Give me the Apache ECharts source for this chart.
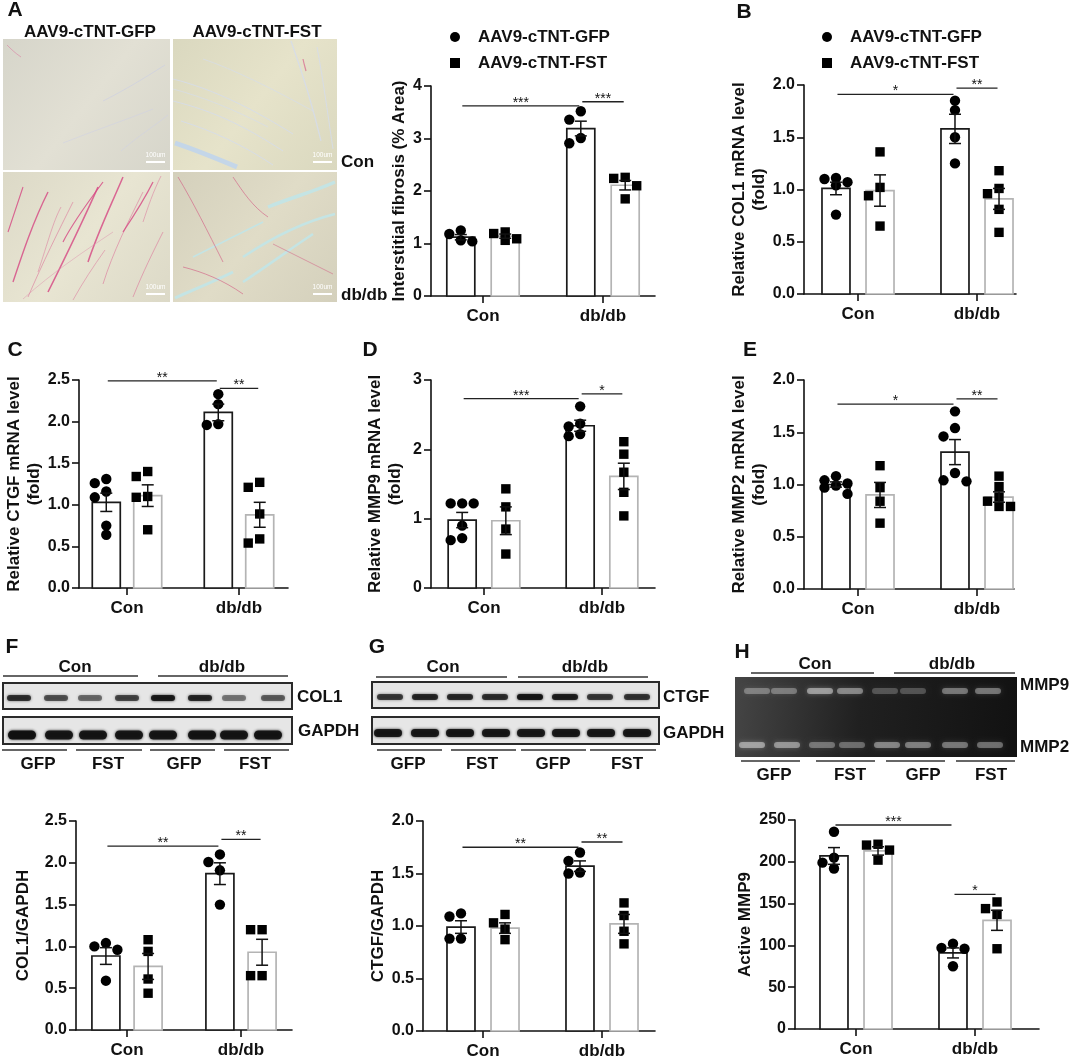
<!DOCTYPE html>
<html>
<head>
<meta charset="utf-8">
<script src="https://cdn.jsdelivr.net/npm/echarts@6.0.0/dist/echarts.min.js"></script>
<style>
  html, body { margin: 0; padding: 0; background: #fff; }
  #fig { width: 1072px; height: 1060px; }
</style>
</head>
<body>
<div id="fig"></div>
<script>
/* Fibrosis figure: histology, qPCR, blots and quantification, panels A-H. */
(function () {
  const FONT = '"Liberation Sans", Arial, Helvetica, sans-serif';
  const INK = '#111';
  const GROUPS = ['Con', 'db/db'];
  const NAMES = ['AAV9-cTNT-GFP', 'AAV9-cTNT-FST'];

  // ---- values: means / SEM order = GFP Con, FST Con, GFP db, FST db ----
  const A_MEAN = [1.12, 1.14, 3.19, 2.11];
  const A_SEM = [0.05, 0.04, 0.14, 0.09];
  const A_GFP = [[1.25, 1.18, 1.06, 1.04], [3.52, 3.36, 3.01, 2.91]];
  const A_FST = [[1.22, 1.19, 1.09, 1.06], [2.26, 2.24, 2.10, 1.85]];
  const A_SIG = [[0, 0, 1, 0, 3.62, '***'], [1, 0, 1, 1, 3.70, '***']];

  const B_MEAN = [1.01, 0.99, 1.58, 0.91];
  const B_SEM = [0.06, 0.15, 0.14, 0.10];
  const B_GFP = [[1.11, 1.10, 1.07, 1.04, 0.76], [1.85, 1.76, 1.50, 1.25]];
  const B_FST = [[1.36, 1.02, 0.94, 0.65], [1.18, 1.01, 0.96, 0.81, 0.59]];
  const B_SIG = [[0, 0, 1, 0, 1.91, '*'], [1, 0, 1, 1, 1.97, '**']];

  const C_MEAN = [1.03, 1.11, 2.11, 0.88];
  const C_SEM = [0.11, 0.13, 0.10, 0.15];
  const C_GFP = [[1.31, 1.26, 1.16, 1.09, 0.75, 0.64], [2.33, 2.21, 1.97, 1.96]];
  const C_FST = [[1.40, 1.34, 1.10, 1.09, 0.70], [1.27, 1.21, 0.89, 0.59, 0.54]];
  const C_SIG = [[0, 0, 1, 0, 2.49, '**'], [1, 0, 1, 1, 2.40, '**']];

  const D_MEAN = [0.98, 0.97, 2.34, 1.61];
  const D_SEM = [0.11, 0.20, 0.08, 0.19];
  const D_GFP = [[1.22, 1.22, 1.22, 0.90, 0.72, 0.69], [2.62, 2.37, 2.33, 2.22, 2.19]];
  const D_FST = [[1.43, 1.17, 0.85, 0.49], [2.11, 1.93, 1.67, 1.38, 1.04]];
  const D_SIG = [[0, 0, 1, 0, 2.73, '***'], [1, 0, 1, 1, 2.80, '*']];

  const E_MEAN = [1.00, 0.90, 1.31, 0.88];
  const E_SEM = [0.025, 0.12, 0.12, 0.05];
  const E_GFP = [[1.08, 1.04, 1.01, 0.99, 0.97, 0.91], [1.70, 1.54, 1.46, 1.11, 1.04, 1.03]];
  const E_FST = [[1.18, 0.97, 0.84, 0.63], [1.08, 0.98, 0.88, 0.84, 0.79, 0.79]];
  const E_SIG = [[0, 0, 1, 0, 1.77, '*'], [1, 0, 1, 1, 1.82, '**']];

  const F_MEAN = [0.885, 0.76, 1.87, 0.93];
  const F_SEM = [0.10, 0.155, 0.13, 0.155];
  const F_GFP = [[1.04, 1.00, 0.96, 0.59], [2.10, 2.01, 1.91, 1.50]];
  const F_FST = [[1.08, 0.94, 0.61, 0.44], [1.20, 1.20, 0.65, 0.65]];
  const F_SIG = [[0, 0, 1, 0, 2.20, '**'], [1, 0, 1, 1, 2.28, '**']];

  const G_MEAN = [0.99, 0.98, 1.57, 1.02];
  const G_SEM = [0.06, 0.05, 0.05, 0.09];
  const G_GFP = [[1.12, 1.09, 0.88, 0.88], [1.70, 1.62, 1.51, 1.50]];
  const G_FST = [[1.11, 1.03, 0.97, 0.87], [1.22, 1.10, 0.95, 0.83]];
  const G_SIG = [[0, 0, 1, 0, 1.75, '**'], [1, 0, 1, 1, 1.80, '**']];

  const H_MEAN = [207, 213, 91, 130];
  const H_SEM = [10, 5, 6, 12];
  const H_GFP = [[236, 205, 199, 192], [102, 97, 96, 75]];
  const H_FST = [[221, 220, 214, 202], [152, 144, 137, 96]];
  const H_SIG = [[0, 0, 1, 0, 244, '***'], [1, 0, 1, 1, 161, '*']];

  // band strengths of the gels (0..1), lanes left to right
  const COL1_BANDS = [0.75, 0.6, 0.5, 0.65, 0.88, 0.8, 0.45, 0.55];
  const GAPDH_F_BANDS = [0.95, 0.9, 0.9, 0.9, 0.9, 0.92, 0.9, 0.92];
  const CTGF_BANDS = [0.7, 0.8, 0.78, 0.75, 0.9, 0.85, 0.7, 0.72];
  const GAPDH_G_BANDS = [0.9, 0.9, 0.9, 0.9, 0.88, 0.9, 0.9, 0.9];
  const MMP9_BANDS = [0.4, 0.4, 0.6, 0.5, 0.28, 0.28, 0.45, 0.45];
  const MMP2_BANDS = [0.6, 0.55, 0.4, 0.38, 0.5, 0.48, 0.45, 0.42];

  // ---- layout: box = [left, top, right, bottom] of plot area, ticks = x px of Con / db/db ----
  const PANELS = [
    { mean: A_MEAN, sem: A_SEM, gfp: A_GFP, fst: A_FST, sig: A_SIG, box: [431, 86, 655, 296], ticks: [483, 603],
      yMax: 4, step: 1, dec: 0, name: 'Interstitial fibrosis (% Area)', gap: 21 },
    { mean: B_MEAN, sem: B_SEM, gfp: B_GFP, fst: B_FST, sig: B_SIG, box: [804, 85, 1016, 294], ticks: [858, 977],
      yMax: 2, step: 0.5, dec: 1, name: 'Relative COL1 mRNA level\n(fold)', gap: 30 },
    { mean: C_MEAN, sem: C_SEM, gfp: C_GFP, fst: C_FST, sig: C_SIG, box: [79, 380, 288, 588], ticks: [127, 239],
      yMax: 2.5, step: 0.5, dec: 1, name: 'Relative CTGF mRNA level\n(fold)', gap: 31 },
    { mean: D_MEAN, sem: D_SEM, gfp: D_GFP, fst: D_FST, sig: D_SIG, box: [431, 380, 655, 588], ticks: [484, 602],
      yMax: 3, step: 1, dec: 0, name: 'Relative MMP9 mRNA level\n(fold)', gap: 26 },
    { mean: E_MEAN, sem: E_SEM, gfp: E_GFP, fst: E_FST, sig: E_SIG, box: [804, 380, 1014, 589], ticks: [858, 977],
      yMax: 2, step: 0.5, dec: 1, name: 'Relative MMP2 mRNA level\n(fold)', gap: 30 },
    { mean: F_MEAN, sem: F_SEM, gfp: F_GFP, fst: F_FST, sig: F_SIG, box: [76, 821, 292, 1030], ticks: [127, 241],
      yMax: 2.5, step: 0.5, dec: 1, name: 'COL1/GAPDH', gap: 43 },
    { mean: G_MEAN, sem: G_SEM, gfp: G_GFP, fst: G_FST, sig: G_SIG, box: [423, 821, 655, 1031], ticks: [483, 602],
      yMax: 2, step: 0.5, dec: 1, name: 'CTGF/GAPDH', gap: 30 },
    { mean: H_MEAN, sem: H_SEM, gfp: H_GFP, fst: H_FST, sig: H_SIG, box: [795, 820, 1039, 1029], ticks: [856, 975],
      yMax: 250, step: 50, dec: 0, name: 'Active MMP9', gap: 36 }
  ];

  const BAR_W = 28, CAP = 6;
  const EDGE = ['#1a1a1a', '#b4b4b4'];

  // simple beeswarm: horizontal px offsets (three columns) so markers do not pile up
  function swarm(vals, pyu) {
    const order = vals.map((v, i) => i).sort((a, b) => vals[b] - vals[a]);
    const placed = [], dx = vals.map(() => 0);
    const cands = [0, -11.5, 11.5];
    const gapOf = (c, y) => placed.reduce((m, q) => Math.min(m, Math.hypot(q[0] - c, q[1] - y)), Infinity);
    order.forEach(i => {
      const y = vals[i] * pyu;
      let best = cands.find(c => gapOf(c, y) >= 8.5);
      if (best === undefined) best = cands.reduce((a, c) => gapOf(c, y) > gapOf(a, y) ? c : a, 0);
      dx[i] = best;
      placed.push([best, y]);
    });
    return dx;
  }

  const grids = [], xAxes = [], yAxes = [], series = [];
  const axisLine = { lineStyle: { color: INK, width: 1.6 } };

  PANELS.forEach((p, i) => {
    const [l, t, r, b] = p.box, [t0, t1] = p.ticks, u = t1 - t0;
    const off = 0.185 * u, pyu = (b - t) / p.yMax;
    grids.push({ left: l, top: t, width: r - l, height: b - t });
    xAxes.push({ gridIndex: i, type: 'value', min: (l - t0) / u, max: (r - t0) / u,
      axisLine: Object.assign({ onZero: false }, axisLine),
      axisTick: { show: true, customValues: [0, 1], length: 7, lineStyle: { color: INK, width: 1.6 } },
      axisLabel: { customValues: [0, 1], formatter: v => GROUPS[Math.round(v)], margin: 12,
        color: INK, fontSize: 17, fontWeight: 'bold', fontFamily: FONT },
      splitLine: { show: false } });
    yAxes.push({ gridIndex: i, type: 'value', min: 0, max: p.yMax, interval: p.step,
      axisLine: Object.assign({ show: true, onZero: false }, axisLine),
      axisTick: { show: true, length: 7, lineStyle: { color: INK, width: 1.6 } },
      axisLabel: { formatter: v => v.toFixed(p.dec), margin: 9, color: INK, fontSize: 16,
        fontWeight: 'bold', fontFamily: FONT },
      splitLine: { show: false },
      name: p.name, nameLocation: 'middle', nameGap: p.gap,
      nameTextStyle: { color: INK, fontSize: 17, fontWeight: 'bold', fontFamily: FONT, lineHeight: 20, align: 'center' } });

    const barX = (api, g, s) => api.coord([g, 0])[0] + (s ? off : -off);
    const base = { type: 'custom', xAxisIndex: i, yAxisIndex: i, silent: true, animation: false };

    series.push(Object.assign({}, base, { z: 2,
      data: p.mean.map((m, k) => [k >> 1, k & 1, m]),
      renderItem: (params, api) => {
        const g = api.value(0), s = api.value(1), x = barX(api, g, s);
        const top = api.coord([g, api.value(2)])[1], y0 = api.coord([g, 0])[1];
        return { type: 'rect', shape: { x: x - BAR_W / 2, y: top, width: BAR_W, height: y0 - top },
          style: { fill: '#fff', stroke: EDGE[s], lineWidth: 1.7 } };
      } }));

    [p.gfp, p.fst].forEach((grp, s) => {
      series.push(Object.assign({}, base, { z: 3, name: NAMES[s], itemStyle: { color: '#000' },
        data: grp.flatMap((vals, g) => { const dx = swarm(vals, pyu); return vals.map((v, k) => [g, v, dx[k]]); }),
        renderItem: (params, api) => {
          const c = api.coord([api.value(0), api.value(1)]);
          const x = barX(api, api.value(0), s) + api.value(2);
          return s
            ? { type: 'rect', shape: { x: x - 4.7, y: c[1] - 4.7, width: 9.4, height: 9.4 }, style: { fill: '#000' } }
            : { type: 'circle', shape: { cx: x, cy: c[1], r: 5.2 }, style: { fill: '#000' } };
        } }));
    });

    series.push(Object.assign({}, base, { z: 4,
      data: p.mean.map((m, k) => [k >> 1, k & 1, m, p.sem[k]]),
      renderItem: (params, api) => {
        const g = api.value(0), s = api.value(1), m = api.value(2), e = api.value(3);
        const x = barX(api, g, s);
        const yT = api.coord([g, m + e])[1], yB = api.coord([g, m - e])[1];
        const st = { stroke: INK, lineWidth: 1.5 };
        return { type: 'group', children: [
          { type: 'line', shape: { x1: x, y1: yT, x2: x, y2: yB }, style: st },
          { type: 'line', shape: { x1: x - CAP, y1: yT, x2: x + CAP, y2: yT }, style: st },
          { type: 'line', shape: { x1: x - CAP, y1: yB, x2: x + CAP, y2: yB }, style: st }] };
      } }));

    series.push(Object.assign({}, base, { z: 5,
      data: p.sig.map(r => r.slice(0, 5)),
      renderItem: (params, api) => {
        const x1 = barX(api, api.value(0), api.value(1)) + 1.5;
        const x2 = barX(api, api.value(2), api.value(3)) - 1.5;
        const y = api.coord([0, api.value(4)])[1];
        return { type: 'group', children: [
          { type: 'line', shape: { x1, y1: y, x2, y2: y }, style: { stroke: '#222', lineWidth: 1.3 } },
          { type: 'text', x: (x1 + x2) / 2, y: y - 3,
            style: { text: p.sig[params.dataIndex][5], font: `14px ${FONT}`, fill: INK, align: 'center', verticalAlign: 'middle' } }] };
      } }));
  });

  // ---- picture parts: letters, histology, blots ----
  const gfx = [];
  const txt = (x, y, s, o = {}) => gfx.push({ type: 'text', x, y, silent: true, z: 10,
    style: { text: s, fill: o.fill || INK, font: `${o.weight || 'bold'} ${o.size || 17}px ${FONT}`,
      align: o.align || 'center', verticalAlign: 'middle' } });
  const ln = (x1, y1, x2, y2, c = '#666', w = 2) => gfx.push({ type: 'line', silent: true, z: 10,
    shape: { x1, y1, x2, y2 }, style: { stroke: c, lineWidth: w } });

  [['A', 15, 10], ['B', 744, 12], ['C', 15, 350], ['D', 370, 350], ['E', 750, 350],
   ['F', 12, 647], ['G', 377, 647], ['H', 742, 652]].forEach(([s, x, y]) => txt(x, y, s, { size: 21 }));

  txt(90, 32, 'AAV9-cTNT-GFP');
  txt(257, 32, 'AAV9-cTNT-FST');
  txt(341, 162, 'Con', { align: 'left' });
  txt(341, 295, 'db/db', { align: 'left' });

  const PINK = 'rgba(214,70,130,0.8)', PINK2 = 'rgba(218,110,150,0.55)';
  const PALE = 'rgba(212,220,236,0.8)', CYAN = 'rgba(196,228,228,1)';
  const HISTO = [
    { x: 3, y: 39, w: 167, h: 131, c0: '#d6d5ca', c1: '#e2e0d4', streaks: [
      [4, 6, 8, 10, 12, 14, 18, 18, 'rgba(220,100,150,0.45)', 1],
      [100, 62, 120, 52, 140, 40, 162, 26, 'rgba(200,204,230,0.55)', 1],
      [60, 104, 90, 92, 120, 82, 150, 70, 'rgba(205,208,230,0.5)', 1],
      [118, 112, 134, 98, 150, 88, 165, 76, 'rgba(205,208,230,0.5)', 1]] },
    { x: 173, y: 39, w: 164, h: 131, c0: '#dad8bf', c1: '#e6e3ca', streaks: [
      [0, 40, 40, 50, 80, 70, 120, 95, PALE, 1], [0, 62, 40, 72, 70, 86, 110, 112, PALE, 1],
      [8, 82, 40, 92, 70, 106, 100, 126, PALE, 1], [30, 20, 60, 30, 100, 50, 140, 72, PALE, 0.8],
      [0, 50, 30, 58, 60, 70, 95, 88, PALE, 0.8],
      [2, 104, 20, 110, 40, 118, 64, 128, 'rgba(196,214,232,1)', 5],
      [118, 2, 128, 30, 138, 60, 148, 102, PALE, 1.3], [144, 8, 150, 40, 154, 70, 160, 110, PALE, 1],
      [130, 20, 131, 25, 132, 28, 133, 32, 'rgba(215,100,140,0.7)', 1.2]] },
    { x: 3, y: 172, w: 167, h: 130, c0: '#dcd9c7', c1: '#e8e5d2', streaks: [
      [10, 110, 20, 80, 30, 50, 45, 20, PINK, 1.4], [25, 125, 40, 90, 55, 60, 70, 30, PINK2, 1],
      [45, 120, 60, 90, 75, 60, 95, 15, PINK, 1.6], [60, 70, 70, 50, 85, 30, 100, 10, PINK, 1.2],
      [85, 90, 95, 60, 105, 40, 120, 5, PINK, 1.5], [100, 112, 110, 80, 125, 50, 140, 20, PINK2, 1],
      [120, 60, 130, 45, 140, 30, 150, 10, PINK, 1.3], [5, 60, 10, 45, 15, 30, 20, 15, PINK, 1.1],
      [130, 125, 140, 100, 150, 80, 160, 60, PINK2, 1], [35, 100, 45, 70, 50, 50, 58, 35, PINK2, 0.9],
      [70, 128, 80, 110, 90, 95, 102, 78, PINK2, 0.9], [140, 50, 145, 35, 150, 20, 158, 4, PINK2, 0.9],
      [20, 127, 50, 100, 80, 80, 110, 60, 'rgba(220,140,170,0.45)', 1]] },
    { x: 173, y: 172, w: 164, h: 130, c0: '#d4d0bc', c1: '#e0dcc7', streaks: [
      [162, 10, 140, 20, 120, 25, 95, 35, CYAN, 3.5], [162, 42, 130, 50, 100, 65, 70, 85, CYAN, 2.5],
      [140, 62, 120, 75, 100, 90, 70, 110, CYAN, 2.5], [90, 50, 70, 60, 50, 70, 20, 85, CYAN, 1.8],
      [60, 100, 40, 110, 20, 118, 2, 126, CYAN, 3],
      [5, 5, 20, 30, 35, 60, 50, 90, 'rgba(210,90,130,0.6)', 1], [60, 5, 70, 20, 80, 35, 95, 45, 'rgba(210,90,130,0.6)', 1],
      [100, 72, 120, 82, 140, 92, 160, 102, 'rgba(210,90,130,0.5)', 1],
      [10, 95, 30, 100, 50, 108, 70, 122, 'rgba(210,90,130,0.6)', 1]] }
  ];
  HISTO.forEach(h => {
    gfx.push({ type: 'rect', silent: true, z: 1, shape: { x: h.x, y: h.y, width: h.w, height: h.h },
      style: { fill: { type: 'linear', x: 0, y: 0, x2: 1, y2: 1,
        colorStops: [{ offset: 0, color: h.c0 }, { offset: 0.5, color: h.c1 }, { offset: 1, color: h.c0 }] } } });
    h.streaks.forEach(s => gfx.push({ type: 'bezierCurve', silent: true, z: 2,
      shape: { x1: h.x + s[0], y1: h.y + s[1], cpx1: h.x + s[2], cpy1: h.y + s[3],
        cpx2: h.x + s[4], cpy2: h.y + s[5], x2: h.x + s[6], y2: h.y + s[7] },
      style: { stroke: s[8], lineWidth: s[9], fill: null } }));
    ln(h.x + h.w - 24, h.y + h.h - 8, h.x + h.w - 5, h.y + h.h - 8, '#fff', 2);
    txt(h.x + h.w - 14.5, h.y + h.h - 15, '100um', { size: 6.5, weight: 'normal', fill: '#fff' });
  });

  function blot(x, y, w, h, centers, by, bw, bh, bands, dark) {
    if (w) gfx.push({ type: 'rect', silent: true, z: 1, shape: { x, y, width: w, height: h },
      style: dark
        ? { fill: { type: 'linear', x: 0, y: 0, x2: 1, y2: 0.3,
            colorStops: [{ offset: 0, color: '#454545' }, { offset: 0.45, color: '#202020' }, { offset: 1, color: '#121212' }] } }
        : { fill: '#e6e6e6', stroke: '#2a2a2a', lineWidth: 2 } });
    centers.forEach((c, k) => {
      const a = bands[k];
      const col = dark ? `rgba(205,205,205,${a})` : `rgba(15,15,15,${a})`;
      gfx.push({ type: 'rect', silent: true, z: 2,
        shape: { x: c - bw / 2, y: by - bh / 2, width: bw, height: bh, r: bh / 2 },
        style: { fill: col, shadowBlur: dark ? 5 : 3, shadowColor: col } });
    });
  }
  function lanes(segs, y, labels, ly) {
    segs.forEach(([a, b], k) => { ln(a, y, b, y, '#666', 2); txt(labels[k], ly, k % 2 ? 'FST' : 'GFP'); });
  }

  // F
  txt(75, 667, 'Con'); ln(3, 676, 138, 676); txt(222, 667, 'db/db'); ln(158, 676, 288, 676);
  blot(3, 683, 289, 26, [19, 56, 90, 127, 163, 200, 234, 273], 698, 24, 6, COL1_BANDS);
  blot(3, 717, 289, 27, [22, 59, 93, 129, 163, 202, 234, 268], 735, 28, 9, GAPDH_F_BANDS);
  txt(297, 697, 'COL1', { align: 'left' }); txt(298, 731, 'GAPDH', { align: 'left' });
  lanes([[2, 67], [76, 142], [150, 215], [224, 289]], 750, [38, 108, 184, 255], 764);
  // G
  txt(443, 667, 'Con'); ln(376, 677, 507, 677); txt(585, 667, 'db/db'); ln(518, 677, 648, 677);
  blot(372, 682, 287, 26, [390, 425, 460, 495, 530, 565, 600, 637], 697, 26, 6, CTGF_BANDS);
  blot(372, 717, 287, 27, [388, 425, 460, 496, 531, 566, 601, 637], 733, 28, 8, GAPDH_G_BANDS);
  txt(663, 697, 'CTGF', { align: 'left' }); txt(663, 733, 'GAPDH', { align: 'left' });
  lanes([[377, 442], [451, 516], [521, 586], [590, 656]], 750, [408, 482, 553, 627], 764);
  // H
  txt(815, 664, 'Con'); ln(751, 673, 874, 673); txt(952, 664, 'db/db'); ln(894, 673, 1015, 673);
  blot(735, 677, 282, 80, [757, 784, 820, 850, 885, 913, 955, 988], 691, 26, 6, MMP9_BANDS, true);
  blot(735, 677, 0, 0, [752, 787, 822, 852, 887, 918, 955, 990], 745, 26, 6, MMP2_BANDS, true);
  txt(1020, 685, 'MMP9', { align: 'left' }); txt(1020, 747, 'MMP2', { align: 'left' });
  lanes([[741, 800], [816, 875], [886, 945], [956, 1015]], 761, [774, 850, 923, 991], 775);

  const legendAt = left => ({ left, top: 27, padding: 0, orient: 'vertical', selectedMode: false,
    itemWidth: 10, itemHeight: 10, itemGap: 6,
    data: [{ name: NAMES[0], icon: 'circle' }, { name: NAMES[1], icon: 'rect' }],
    textStyle: { color: INK, fontSize: 17, fontWeight: 'bold', fontFamily: FONT, lineHeight: 20, padding: [0, 0, 0, 13] } });

  const chart = echarts.init(document.getElementById('fig'), null, { renderer: 'canvas' });
  chart.setOption({
    animation: false, backgroundColor: '#fff', color: ['#000'],
    legend: [legendAt(450), legendAt(822)],
    grid: grids, xAxis: xAxes, yAxis: yAxes, series, graphic: gfx
  });
})();
</script>
</body>
</html>
